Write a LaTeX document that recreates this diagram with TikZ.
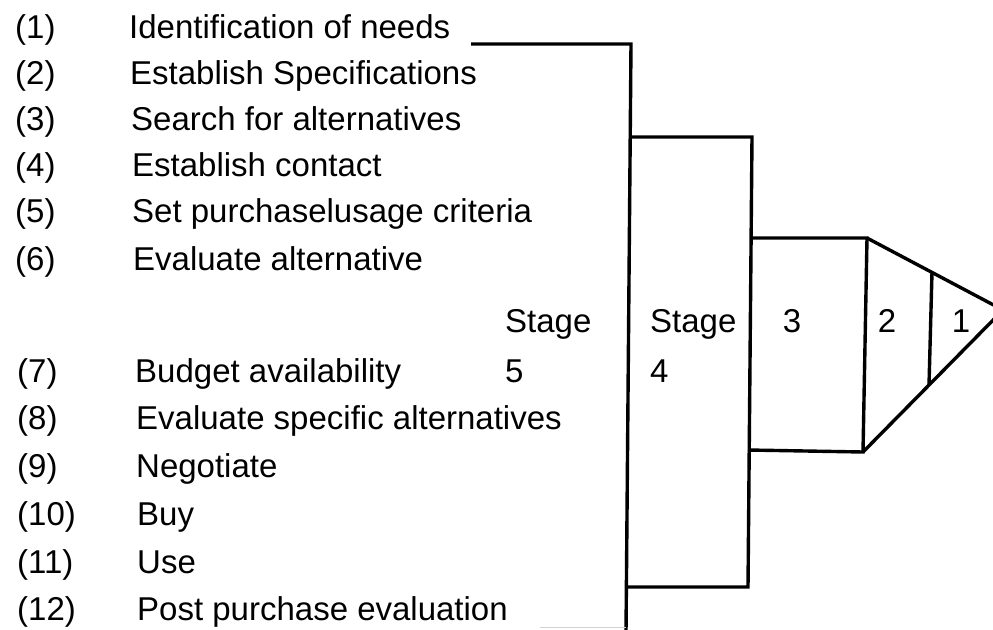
\documentclass[tikz,border=0pt]{standalone}
\usepackage{fontspec}
\setmainfont{Liberation Sans}
\begin{document}
\begin{tikzpicture}[x=1pt,y=-1pt,
  txt/.style={anchor=base west, inner sep=0pt, font=\fontsize{33}{40}\selectfont},
  num/.style={txt, anchor=base},
  edge/.style={line width=3.4pt, line join=miter, line cap=butt}]
\useasboundingbox (0,0) rectangle (993,629);
\clip (0,0) rectangle (993,629);

% numbered list of buying steps
\node[txt] (n1)  at (15,38)  {(1)};
\node[txt] (n2)  at (15,84)  {(2)};
\node[txt] (n3)  at (15,130) {(3)};
\node[txt] (n4)  at (15,176) {(4)};
\node[txt] (n5)  at (15,222) {(5)};
\node[txt] (n6)  at (15,270) {(6)};
\node[txt] (n7)  at (17,382) {(7)};
\node[txt] (n8)  at (17,429) {(8)};
\node[txt] (n9)  at (17,477) {(9)};
\node[txt] (n10) at (17,525) {(10)};
\node[txt] (n11) at (17,573) {(11)};
\node[txt] (n12) at (17,620) {(12)};

\node[txt] (t1)  at (129,38)  {Identification of needs};
\node[txt] (t2)  at (130,84)  {Establish Specifications};
\node[txt] (t3)  at (131,130) {Search for alternatives};
\node[txt] (t4)  at (132,176) {Establish contact};
\node[txt] (t5)  at (132,222) {Set purchaselusage criteria};
\node[txt] (t6)  at (133,270) {Evaluate alternative};
\node[txt] (t7)  at (135,382) {Budget availability};
\node[txt] (t8)  at (136,429) {Evaluate specific alternatives};
\node[txt] (t9)  at (136,477) {Negotiate};
\node[txt] (t10) at (137,525) {Buy};
\node[txt] (t11) at (137,573) {Use};
\node[txt] (t12) at (137,620) {Post purchase evaluation};

% stage labels
\node[txt] (st5) at (505,332) {Stage};
\node[txt] (sn5) at (505,382) {5};
\node[txt] (st4) at (650,332) {Stage};
\node[txt] (sn4) at (650,382) {4};
\node[num] (sn3) at (792,332) {3};
\node[num] (sn2) at (887,332) {2};
\node[num] (sn1) at (961,332) {1};

% stage 5 outline
\coordinate (a1) at (471,44);
\coordinate (a2) at (631,44);
\coordinate (a3) at (626,632);
\draw[edge] (a1) -- (a2) -- (a3);
\coordinate (a4) at (540,627);
\coordinate (a5) at (626,627);
\draw[gray!35, line width=0.8pt] (a4) -- (a5);

% stage 4 outline
\coordinate (b1) at (630,137);
\coordinate (b2) at (752,137);
\coordinate (b3) at (748,587);
\coordinate (b4) at (628,587);
\draw[edge] (b1) -- (b2) -- (b3) -- (b4);

% stage 3 outline
\coordinate (c1) at (752,238);
\coordinate (c2) at (867,238);
\coordinate (c3) at (863,452);
\coordinate (c4) at (748,450);
\draw[edge] (c1) -- (c2) -- (c3) -- (c4);

% stages 2 and 1: the point
\coordinate (tip) at (1003,310);
\draw[edge] (c2) -- (tip) -- (c3);
\coordinate (d1) at (932,272);
\coordinate (d2) at (929,385);
\draw[edge] (d1) -- (d2);
\end{tikzpicture}
\end{document}
